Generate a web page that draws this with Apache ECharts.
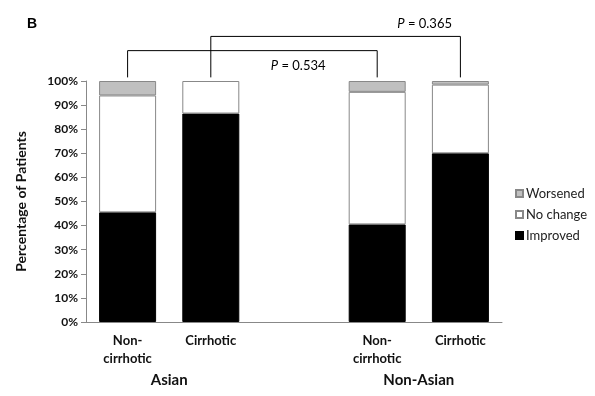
<!DOCTYPE html>
<html>
<head>
<meta charset="utf-8">
<script src="https://cdn.jsdelivr.net/npm/echarts@6/dist/echarts.min.js"></script>
<style>
  html, body { margin: 0; padding: 0; background: #fff; }
  #chart { width: 595px; height: 396px; }
</style>
</head>
<body>
<div id="chart"></div>
<script>
const categories = ["Non-\ncirrhotic", "Cirrhotic", "", "Non-\ncirrhotic", "Cirrhotic"];
const groups = ["Asian", "Non-Asian"];
const improved = [45.5, 86.5, null, 40.5, 70];
const noChange = [48.5, 13.5, null, 55, 28.5];
const worsened = [6, null, null, 4.5, 1.5];
// pairs of bars compared, with their p values
const compareFrom = [0, 1];
const compareTo = [3, 4];
const pValues = ["0.534", "0.365"];

const font = "Lato";
const chart = echarts.init(document.getElementById("chart"));

// group names sit on the category boundaries 1 and 4
function groupLabel(v) {
  if (v === 1) return groups[0];
  if (v === 4) return groups[1];
  return "";
}

chart.setOption({
  animation: false,
  textStyle: { fontFamily: font },
  grid: { left: 86, right: 93, top: 81, bottom: 74 },
  legend: {
    data: ["Worsened", "No change", "Improved"],
    orient: "vertical",
    left: 510,
    top: 182,
    itemWidth: 7,
    itemHeight: 7,
    itemGap: 8,
    icon: "rect",
    textStyle: { fontFamily: font, fontSize: 13, color: "#222", padding: [0, 0, 0, -2] }
  },
  xAxis: [
    {
      type: "category",
      data: categories,
      axisLine: { lineStyle: { color: "#888" } },
      axisTick: { length: 5, lineStyle: { color: "#888" } },
      axisLabel: {
        interval: 0, margin: 10, fontSize: 13, fontWeight: "bold",
        color: "#111", lineHeight: 18, fontFamily: font
      }
    },
    {
      type: "value",
      position: "bottom",
      min: 0, max: 5, interval: 1,
      axisLine: { show: false },
      axisTick: { show: false },
      splitLine: { show: false },
      axisLabel: {
        margin: 51, fontSize: 15, fontWeight: "bold", color: "#111",
        fontFamily: font, formatter: groupLabel
      }
    }
  ],
  yAxis: {
    type: "value",
    min: 0, max: 100, interval: 10,
    name: "Percentage of Patients",
    nameLocation: "middle",
    nameGap: 58,
    nameTextStyle: { fontSize: 14, fontWeight: "bold", color: "#111", fontFamily: font },
    axisLine: { show: true, lineStyle: { color: "#888" } },
    axisTick: { show: true, length: 5, lineStyle: { color: "#888" } },
    splitLine: { show: false },
    axisLabel: { formatter: "{value}%", fontSize: 12, fontWeight: "bold", color: "#111", margin: 8 }
  },
  series: [
    {
      name: "Improved", type: "bar", stack: "t", data: improved, barWidth: 57,
      itemStyle: { color: "#000", borderColor: "#000", borderWidth: 1 }
    },
    {
      name: "No change", type: "bar", stack: "t", data: noChange, barWidth: 57,
      itemStyle: { color: "#fff", borderColor: "#888", borderWidth: 1 }
    },
    {
      name: "Worsened", type: "bar", stack: "t", data: worsened, barWidth: 57,
      itemStyle: { color: "#c0c0c0", borderColor: "#888", borderWidth: 1 }
    }
  ]
});

// brackets above the bars, drawn in axis units
const armBottom = 101.5;
const armTop = [112.6, 118.5];
const labelY = [106.5, 123.9];
const labelX = [2.55, 4.07];
const graphics = [
  {
    type: "text", left: 27, top: 17,
    style: { text: "B", font: "bold 14px 'Liberation Sans'", fill: "#000" }
  }
];
for (let i = 0; i < pValues.length; i++) {
  const x1 = chart.convertToPixel({ xAxisIndex: 1 }, compareFrom[i] + 0.5);
  const x2 = chart.convertToPixel({ xAxisIndex: 1 }, compareTo[i] + 0.5);
  const yb = chart.convertToPixel({ yAxisIndex: 0 }, armBottom);
  const yt = chart.convertToPixel({ yAxisIndex: 0 }, armTop[i]);
  graphics.push({
    type: "polyline",
    shape: { points: [[x1, yb], [x1, yt], [x2, yt], [x2, yb]] },
    style: { stroke: "#000", lineWidth: 1, fill: null }
  });
  graphics.push({
    type: "text",
    x: chart.convertToPixel({ xAxisIndex: 1 }, labelX[i]),
    y: chart.convertToPixel({ yAxisIndex: 0 }, labelY[i]),
    style: {
      text: "{i|P} = " + pValues[i],
      align: "center", verticalAlign: "middle",
      fontFamily: font, fontSize: 13, fill: "#000",
      rich: { i: { fontStyle: "italic", fontFamily: font, fontSize: 13 } }
    }
  });
}
chart.setOption({ graphic: graphics });
</script>
</body>
</html>
